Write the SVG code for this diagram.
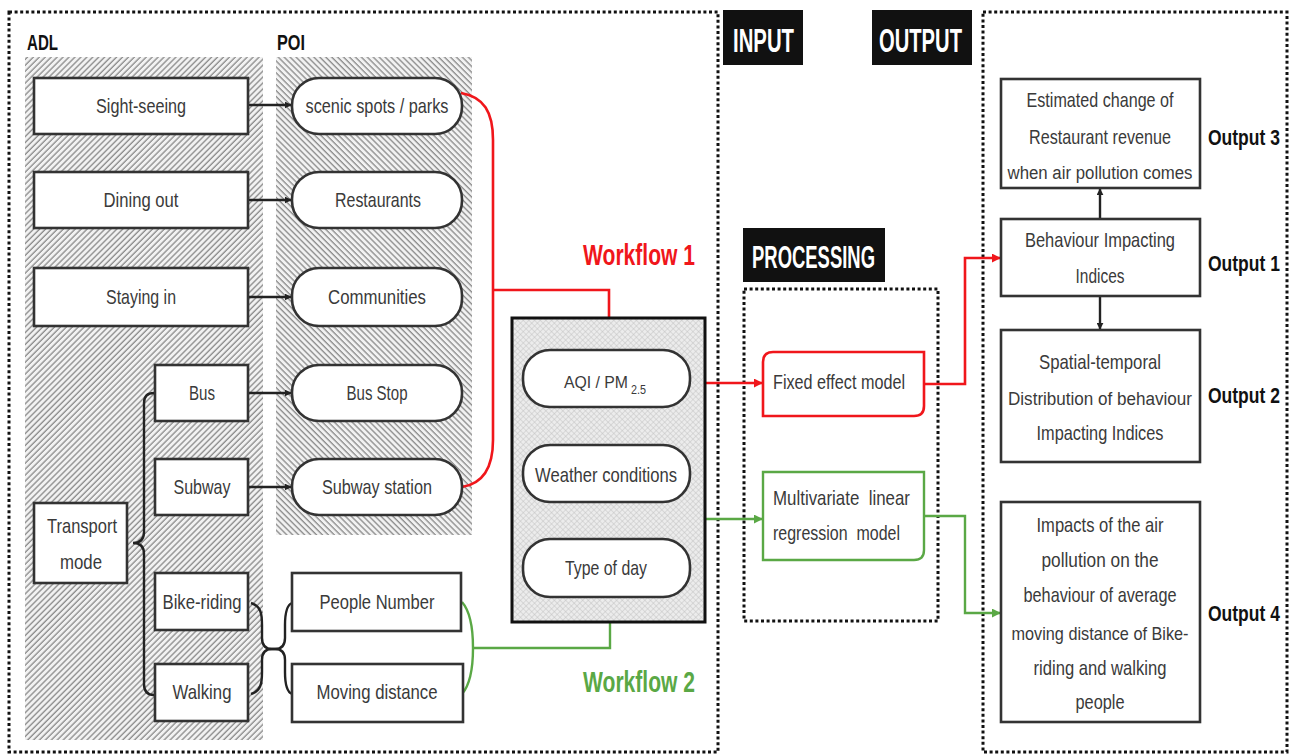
<svg xmlns="http://www.w3.org/2000/svg" width="1291" height="756" viewBox="0 0 1291 756">
<style>
text{font-family:"Liberation Sans",Arial,sans-serif;fill:#3a3a3a}
.t{font-size:21px;text-anchor:middle}
.tl{font-size:21px}
.h{font-weight:bold;fill:#111}
.hw{font-weight:bold;fill:#fff;font-size:34px}
.box{fill:#fff;stroke:#333;stroke-width:2.6}
.dot{fill:none;stroke:#111;stroke-width:3;stroke-dasharray:3 2.6}
.blk{fill:none;stroke:#222;stroke-width:2.4}
.red{fill:none;stroke:#f0161b;stroke-width:2.6}
.grn{fill:none;stroke:#5aa845;stroke-width:2.4}
</style>
<defs>
<pattern id="hatchA" width="4.2" height="4.2" patternUnits="userSpaceOnUse" patternTransform="rotate(45)">
<rect width="4.2" height="4.2" fill="#f2f2f2"/><line x1="1" y1="0" x2="1" y2="4.2" stroke="#8f8f8f" stroke-width="1.4"/>
</pattern>
<pattern id="hatchB" width="4.2" height="4.2" patternUnits="userSpaceOnUse" patternTransform="rotate(-45)">
<rect width="4.2" height="4.2" fill="#f2f2f2"/><line x1="1" y1="0" x2="1" y2="4.2" stroke="#8f8f8f" stroke-width="1.4"/>
</pattern>
<pattern id="cross" width="4" height="4" patternUnits="userSpaceOnUse" patternTransform="rotate(45)">
<rect width="4" height="4" fill="#ececec"/><path d="M0,0H4M0,0V4" stroke="#c2c2c2" stroke-width="1"/>
</pattern>
<marker id="ak" viewBox="0 0 10 10" refX="9" refY="5" markerWidth="7" markerHeight="7" markerUnits="userSpaceOnUse" orient="auto"><path d="M0,0L10,5L0,10z" fill="#222"/></marker>
<marker id="ar" viewBox="0 0 10 10" refX="9" refY="5" markerWidth="9" markerHeight="9" markerUnits="userSpaceOnUse" orient="auto"><path d="M0,0L10,5L0,10z" fill="#f0161b"/></marker>
<marker id="ag" viewBox="0 0 10 10" refX="9" refY="5" markerWidth="9" markerHeight="9" markerUnits="userSpaceOnUse" orient="auto"><path d="M0,0L10,5L0,10z" fill="#5aa845"/></marker>
</defs>

<rect width="1291" height="756" fill="#fff"/>

<g id="frames">
<path class="dot" d="M9,12H718V752H9Z"/>
<path class="dot" d="M983,12H1287V752H983Z"/>
<path class="dot" d="M744,289H938V621H744Z"/>
<rect x="25" y="57" width="238" height="683" fill="url(#hatchA)"/>
<rect x="276" y="57" width="196" height="478" fill="url(#hatchB)"/>
</g>

<g id="headings">
<text class="h" x="27" y="50" font-size="22" textLength="31" lengthAdjust="spacingAndGlyphs">ADL</text>
<text class="h" x="277" y="50" font-size="22" textLength="28" lengthAdjust="spacingAndGlyphs">POI</text>
<g id="input-label"><rect x="723" y="10" width="80" height="55" fill="#111"/><text class="hw" x="733" y="52" textLength="61" lengthAdjust="spacingAndGlyphs">INPUT</text></g>
<g id="output-label"><rect x="872" y="10" width="100" height="55" fill="#111"/><text class="hw" x="879" y="52" textLength="83" lengthAdjust="spacingAndGlyphs">OUTPUT</text></g>
<g id="processing-label"><rect x="743" y="228" width="142" height="54" fill="#111"/><text class="hw" x="752" y="268" style="font-size:32px" textLength="123" lengthAdjust="spacingAndGlyphs">PROCESSING</text></g>
<text x="583" y="265" font-size="30" font-weight="bold" style="fill:#f0161b" textLength="112" lengthAdjust="spacingAndGlyphs">Workflow 1</text>
<text x="583" y="692" font-size="30" font-weight="bold" style="fill:#5aa845" textLength="112" lengthAdjust="spacingAndGlyphs">Workflow 2</text>
</g>

<g id="connectors">
<path class="blk" d="M248,105H291" marker-end="url(#ak)"/>
<path class="blk" d="M248,200H291" marker-end="url(#ak)"/>
<path class="blk" d="M248,297H291" marker-end="url(#ak)"/>
<path class="blk" d="M248,393H291" marker-end="url(#ak)"/>
<path class="blk" d="M248,487H291" marker-end="url(#ak)"/>
<path class="blk" d="M154,393Q144,393 144,403V532Q144,543 133,543Q144,543 144,554V684Q144,695 154,695"/>
<path class="blk" d="M251,603C261,606 262,614 262,625V638Q262,649 272,649H275Q285,649 285,638V625C285,612 287,605 292,603"/>
<path class="blk" d="M251,694C261,691 262,683 262,672V660Q262,649 272,649H275Q285,649 285,660V672C285,685 287,692 292,694"/>
<path class="red" d="M461,93C484,97 493,112 493,140V440C493,470 481,484 462,487"/>
<path class="red" d="M493,290H609V318"/>
<path class="grn" d="M462,602C469,610 473,625 473,648C473,671 469,686 462,694"/>
<path class="grn" d="M473,648H610V623"/>
<path class="red" d="M705,383H762" marker-end="url(#ar)"/>
<path class="grn" d="M705,519H762" marker-end="url(#ag)"/>
<path class="red" d="M924,384H965V258H1000" marker-end="url(#ar)"/>
<path class="grn" d="M924,516H965V613H1000" marker-end="url(#ag)"/>
<path class="blk" d="M1100,219V189" stroke-width="1.8" marker-end="url(#ak)"/>
<path class="blk" d="M1100,296V329" stroke-width="1.8" marker-end="url(#ak)"/>
</g>

<g id="n-sight"><rect class="box" x="34" y="78" width="214" height="56"/><text class="t" x="141" y="113" textLength="90" lengthAdjust="spacingAndGlyphs">Sight-seeing</text></g>
<g id="n-dining"><rect class="box" x="34" y="172" width="214" height="56"/><text class="t" x="141" y="207" textLength="75" lengthAdjust="spacingAndGlyphs">Dining out</text></g>
<g id="n-staying"><rect class="box" x="34" y="268" width="214" height="58"/><text class="t" x="141" y="304" textLength="70" lengthAdjust="spacingAndGlyphs">Staying in</text></g>
<g id="n-bus"><rect class="box" x="155" y="365" width="93" height="56"/><text class="t" x="202" y="400" textLength="26" lengthAdjust="spacingAndGlyphs">Bus</text></g>
<g id="n-subway"><rect class="box" x="155" y="459" width="93" height="56"/><text class="t" x="202" y="494" textLength="57" lengthAdjust="spacingAndGlyphs">Subway</text></g>
<g id="n-transport"><rect class="box" x="34" y="503" width="93" height="80"/><text class="t" x="82" y="533" textLength="70" lengthAdjust="spacingAndGlyphs">Transport</text><text class="t" x="81" y="569" textLength="42" lengthAdjust="spacingAndGlyphs">mode</text></g>
<g id="n-bike"><rect class="box" x="155" y="573" width="93" height="57"/><text class="t" x="202" y="609" textLength="79" lengthAdjust="spacingAndGlyphs">Bike-riding</text></g>
<g id="n-walking"><rect class="box" x="155" y="664" width="93" height="57"/><text class="t" x="202" y="699" textLength="59" lengthAdjust="spacingAndGlyphs">Walking</text></g>

<g id="n-scenic"><rect class="box" x="292" y="78" width="170" height="56" rx="27"/><text class="t" x="377" y="113" textLength="143" lengthAdjust="spacingAndGlyphs">scenic spots / parks</text></g>
<g id="n-restaurants"><rect class="box" x="292" y="172" width="170" height="56" rx="27"/><text class="t" x="378" y="207" textLength="86" lengthAdjust="spacingAndGlyphs">Restaurants</text></g>
<g id="n-communities"><rect class="box" x="292" y="268" width="170" height="58" rx="27"/><text class="t" x="377" y="304" textLength="98" lengthAdjust="spacingAndGlyphs">Communities</text></g>
<g id="n-busstop"><rect class="box" x="292" y="365" width="170" height="56" rx="27"/><text class="t" x="377" y="400" textLength="61" lengthAdjust="spacingAndGlyphs">Bus Stop</text></g>
<g id="n-subwaystation"><rect class="box" x="292" y="459" width="170" height="56" rx="27"/><text class="t" x="377" y="494" textLength="110" lengthAdjust="spacingAndGlyphs">Subway station</text></g>
<g id="n-people"><rect class="box" x="292" y="573" width="169" height="58"/><text class="t" x="377" y="609" textLength="115" lengthAdjust="spacingAndGlyphs">People Number</text></g>
<g id="n-moving"><rect class="box" x="292" y="664" width="171" height="58"/><text class="t" x="377" y="699" textLength="121" lengthAdjust="spacingAndGlyphs">Moving distance</text></g>

<g id="n-input">
<rect x="512" y="318" width="193" height="304" fill="url(#cross)" stroke="#111" stroke-width="3"/>
<g id="n-aqi"><rect class="box" x="523" y="350" width="167" height="57" rx="27"/><text x="564" y="388" style="font-size:16px" textLength="64" lengthAdjust="spacingAndGlyphs">AQI / PM</text><text x="631" y="394" style="font-size:13px" textLength="15" lengthAdjust="spacingAndGlyphs">2.5</text></g>
<g id="n-weather"><rect class="box" x="523" y="445" width="167" height="57" rx="27"/><text class="t" x="606" y="482" textLength="142" lengthAdjust="spacingAndGlyphs">Weather conditions</text></g>
<g id="n-typeday"><rect class="box" x="523" y="539" width="167" height="58" rx="27"/><text class="t" x="606" y="575" textLength="82" lengthAdjust="spacingAndGlyphs">Type of day</text></g>
</g>

<g id="n-fixed"><path d="M773,352H924V406Q924,416 914,416H763V362Q763,352 773,352Z" fill="#fff" stroke="#f0161b" stroke-width="2.6"/><text class="tl" x="773" y="389" textLength="132" lengthAdjust="spacingAndGlyphs">Fixed effect model</text></g>
<g id="n-mlr"><path d="M763,472H924V550Q924,560 914,560H763Z" fill="#fff" stroke="#5aa845" stroke-width="2.4"/><text class="tl" x="773" y="505" xml:space="preserve" textLength="137" lengthAdjust="spacingAndGlyphs">Multivariate  linear</text><text class="tl" x="773" y="540" xml:space="preserve" textLength="127" lengthAdjust="spacingAndGlyphs">regression  model</text></g>

<g id="n-out3"><rect class="box" x="1001" y="79" width="199" height="109"/><text class="t" x="1100" y="107" textLength="147" lengthAdjust="spacingAndGlyphs">Estimated change of</text><text class="t" x="1100" y="144" textLength="142" lengthAdjust="spacingAndGlyphs">Restaurant revenue</text><text class="t" x="1100" y="179" style="font-size:18px" textLength="185" lengthAdjust="spacingAndGlyphs">when air pollution comes</text></g>
<g id="n-out1"><rect class="box" x="1001" y="219" width="199" height="77"/><text class="t" x="1100" y="247" textLength="150" lengthAdjust="spacingAndGlyphs">Behaviour Impacting</text><text class="t" x="1100" y="283" textLength="49" lengthAdjust="spacingAndGlyphs">Indices</text></g>
<g id="n-out2"><rect class="box" x="1001" y="330" width="199" height="132"/><text class="t" x="1100" y="369" textLength="122" lengthAdjust="spacingAndGlyphs">Spatial-temporal</text><text class="t" x="1100" y="405" style="font-size:18px" textLength="184" lengthAdjust="spacingAndGlyphs">Distribution of behaviour</text><text class="t" x="1100" y="440" textLength="127" lengthAdjust="spacingAndGlyphs">Impacting Indices</text></g>
<g id="n-out4"><rect class="box" x="1001" y="502" width="199" height="220"/><text class="t" x="1100" y="532" textLength="127" lengthAdjust="spacingAndGlyphs">Impacts of the air</text><text class="t" x="1100" y="567" textLength="117" lengthAdjust="spacingAndGlyphs">pollution on the</text><text class="t" x="1100" y="602" textLength="153" lengthAdjust="spacingAndGlyphs">behaviour of average</text><text class="t" x="1100" y="640" style="font-size:19px" textLength="177" lengthAdjust="spacingAndGlyphs">moving distance of Bike-</text><text class="t" x="1100" y="675" textLength="133" lengthAdjust="spacingAndGlyphs">riding and walking</text><text class="t" x="1100" y="709" textLength="49" lengthAdjust="spacingAndGlyphs">people</text></g>

<g id="output-labels">
<text class="h" transform="translate(1208,145) scale(1,1.3)" font-size="17.5">Output 3</text>
<text class="h" transform="translate(1208,271) scale(1,1.3)" font-size="17.5">Output 1</text>
<text class="h" transform="translate(1208,403) scale(1,1.3)" font-size="17.5">Output 2</text>
<text class="h" transform="translate(1208,621) scale(1,1.3)" font-size="17.5">Output 4</text>
</g>
</svg>
